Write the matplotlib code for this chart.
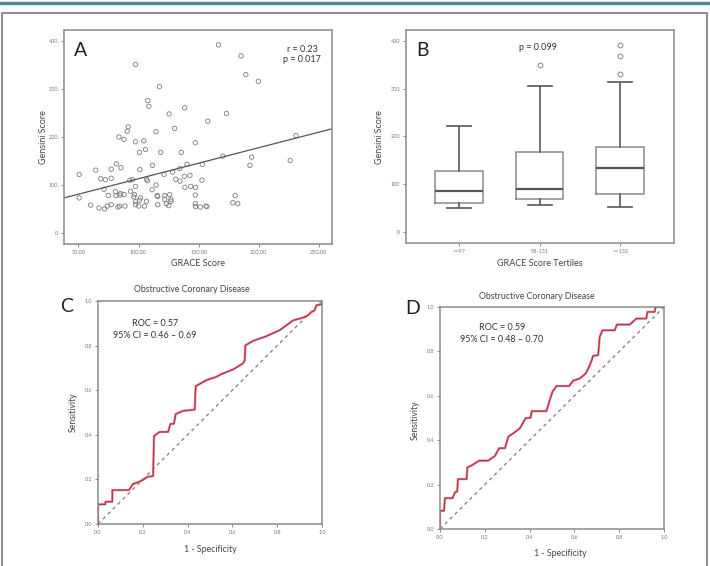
import numpy as np
import matplotlib.pyplot as plt

W, H = 710, 566

# Panel A: GRACE vs Gensini scatter
grace = [166.6, 185.4, 189.3, 199.7, 97.5, 117.4, 107.7, 108.6, 125.4, 138.4,
         173.2, 157.7, 91.4, 90.6, 114.6, 130.1, 83.7, 87.9, 97.5, 104.4,
         147.2, 100.8, 105.8, 118.5, 135.6, 231.0, 170.2, 194.1, 226.2, 192.7,
         50.6, 64.4, 77.3, 81.5, 85.4, 101.1, 111.6, 134.3, 140.3, 153.0,
         128.5, 121.3, 142.8, 138.1, 68.5, 72.4, 77.3, 92.8, 95.0, 106.6,
         107.4, 130.9, 134.5, 152.8, 97.5, 114.6, 138.6, 143.4, 147.5, 50.6,
         71.3, 80.9, 85.1, 93.4, 111.3, 74.9, 81.3, 84.4, 96.7, 101.7,
         115.5, 116.0, 121.8, 125.9, 127.0, 147.2, 180.4, 60.2, 71.8, 74.0,
         77.3, 84.2, 82.9, 88.7, 97.5, 97.5, 100.8, 100.2, 104.9, 106.6,
         116.0, 121.8, 123.2, 125.1, 127.0, 147.2, 147.5, 151.4, 156.1, 156.9,
         178.5, 182.6, 96.1, 87.9, 67.1]
gensini = [392, 369, 330, 316, 351, 305, 276, 264, 248, 261,
           249, 233, 221, 212, 211, 218, 200, 195, 190, 192,
           188, 168, 174, 168, 168, 203, 160, 158, 151, 141,
           122, 131, 133, 144, 136, 132, 141, 134, 143, 143,
           127, 122, 120, 118, 113, 111, 114, 110, 111, 112,
           109, 112, 108, 110, 97, 100, 95, 97, 95, 73,
           91, 86, 82, 87, 90, 78, 78, 79, 80, 73,
           78, 76, 78, 80, 70, 79, 78, 58, 50, 56,
           59, 56, 54, 56, 59, 65, 68, 56, 56, 66,
           59, 70, 61, 57, 66, 61, 55, 54, 56, 55,
           63, 61, 75, 80, 52]
fit_slope = 0.646
fit_intercept = 48.5
r_text = "r = 0.23"
pA_text = "p = 0.017"

# Panel B: Gensini by GRACE tertiles
tertiles = ["<=97", "98-131", ">=132"]
whislo = [50, 56, 53]
q1 = [61, 70, 79]
med = [86, 90, 133]
q3 = [127, 168, 177]
whishi = [221, 305, 315]
fliers = [[], [350], [391, 368, 330]]
pB_text = "p = 0.099"

# Panel C / D: ROC curves
fpr_c = [0, 0, 0.033, 0.033, 0.064, 0.064, 0.138, 0.156, 0.186, 0.204, 0.223,
         0.246, 0.25, 0.275, 0.313, 0.323, 0.339, 0.347, 0.379, 0.432, 0.436,
         0.484, 0.528, 0.551, 0.603, 0.647, 0.655, 0.658, 0.692, 0.751, 0.811,
         0.871, 0.915, 0.938, 0.952, 0.967, 0.975, 0.997, 1.0]
tpr_c = [0, 0.088, 0.088, 0.1, 0.1, 0.152, 0.152, 0.179, 0.19, 0.2, 0.212,
         0.215, 0.394, 0.413, 0.413, 0.448, 0.45, 0.493, 0.507, 0.513, 0.618,
         0.645, 0.66, 0.672, 0.693, 0.72, 0.734, 0.801, 0.821, 0.842, 0.869,
         0.913, 0.925, 0.936, 0.95, 0.958, 0.981, 0.985, 1.0]
fpr_d = [0, 0, 0.018, 0.022, 0.056, 0.067, 0.077, 0.08, 0.119, 0.122, 0.146,
         0.175, 0.215, 0.245, 0.264, 0.29, 0.305, 0.327, 0.357, 0.382, 0.404,
         0.41, 0.475, 0.49, 0.502, 0.52, 0.577, 0.594, 0.624, 0.651, 0.669,
         0.684, 0.706, 0.713, 0.725, 0.78, 0.79, 0.847, 0.877, 0.921, 0.926,
         0.958, 0.963, 1.0]
tpr_d = [0, 0.082, 0.082, 0.139, 0.139, 0.166, 0.169, 0.225, 0.225, 0.277, 0.289,
         0.308, 0.308, 0.329, 0.364, 0.364, 0.416, 0.431, 0.454, 0.499, 0.501,
         0.531, 0.531, 0.581, 0.618, 0.644, 0.644, 0.668, 0.678, 0.701, 0.738,
         0.78, 0.783, 0.865, 0.895, 0.895, 0.921, 0.921, 0.948, 0.948, 0.978,
         0.978, 1.0, 1.0]
roc_c = ["ROC = 0.57", "95% CI = 0.46 \u2013 0.69"]
roc_d = ["ROC = 0.59", "95% CI = 0.48 \u2013 0.70"]

plt.rcParams["font.family"] = ["Lato", "DejaVu Sans"]

fig = plt.figure(figsize=(W / 100, H / 100), dpi=100)


def rect(l, t, r, b):
    return [l / W, 1 - b / H, (r - l) / W, (b - t) / H]


def ftext(x, y, s, **kw):
    fig.text(x / W, 1 - y / H, s, **kw)


# page decoration
fig.add_artist(plt.Line2D([0, 1], [1 - 3 / H, 1 - 3 / H], color="#4d8a98", lw=2.5))
fig.add_artist(plt.Rectangle((2 / W, -0.01), (W - 5) / W, 1 - 12.5 / H + 0.01,
                             fill=False, ec="#7a7a7a", lw=1.2))


def style(ax):
    for s in ax.spines.values():
        s.set_color("#8a8a8a")
        s.set_linewidth(1.1)
    ax.tick_params(labelsize=4, colors="#777777", length=2.5, width=0.6, pad=1.5)


# A
axA = fig.add_axes(rect(64, 30, 332, 244))
axA.scatter(grace, gensini, s=10, facecolors="none", edgecolors="#7c7c7c", linewidths=0.6)
xs = np.array([38, 261])
axA.plot(xs, fit_intercept + fit_slope * xs, color="#555555", lw=0.9)
axA.set_xlim(38, 261)
axA.set_ylim(-23, 423)
axA.set_xticks([50, 100, 150, 200, 250])
axA.set_xticklabels(["50.00", "100.00", "150.00", "200.00", "250.00"])
axA.set_yticks([0, 100, 200, 300, 400])
style(axA)
ftext(198, 264, "GRACE Score", fontsize=6.5, color="#444444", ha="center", va="center")
ftext(43, 137, "Gensini Score", fontsize=6.5, color="#444444", ha="center", va="center", rotation=90)
ftext(81, 50, "A", fontsize=14, ha="center", va="center", color="#222222")
ftext(302, 49, r_text, fontsize=6.5, ha="center", va="center", color="#333333")
ftext(302, 59, pA_text, fontsize=6.5, ha="center", va="center", color="#333333")

# B
axB = fig.add_axes(rect(406, 30, 674, 243))
stats = []
for i in range(3):
    stats.append(dict(med=med[i], q1=q1[i], q3=q3[i], whislo=whislo[i],
                      whishi=whishi[i], fliers=fliers[i]))
axB.bxp(stats, positions=[1, 2, 3], widths=0.59,
        boxprops=dict(color="#8a8a8a", lw=1.1),
        medianprops=dict(color="#555555", lw=1.6),
        whiskerprops=dict(color="#666666", lw=1.3),
        capprops=dict(color="#666666", lw=1.3),
        flierprops=dict(marker="o", mfc="none", mec="#888888", ms=3.5, mew=0.7),
        capwidths=0.3)
axB.set_xlim(0.34, 3.67)
axB.set_ylim(-23, 423)
axB.set_xticks([1, 2, 3])
axB.set_xticklabels(tertiles)
axB.set_yticks([0, 100, 200, 300, 400])
style(axB)
ftext(540, 264, "GRACE Score Tertiles", fontsize=6.5, color="#444444", ha="center", va="center")
ftext(380, 137, "Gensini Score", fontsize=6.5, color="#444444", ha="center", va="center", rotation=90)
ftext(423, 50, "B", fontsize=14, ha="center", va="center", color="#222222")
ftext(538, 48, pB_text, fontsize=6.5, ha="center", va="center", color="#333333")


def roc_panel(box, fpr, tpr, letter, letter_xy, title_xy, txt, txt_xy, ylab_xy, xlab_xy):
    ax = fig.add_axes(rect(*box))
    ax.plot([0, 1], [0, 1], color="#888888", lw=1.0, ls=(0, (2.5, 2.5)))
    ax.plot(fpr, tpr, color="#ec8a9c", lw=1.7)
    ax.plot(fpr, tpr, color="#b23448", lw=0.9)
    ax.set_xlim(0, 1)
    ax.set_ylim(0, 1)
    ticks = [0, 0.2, 0.4, 0.6, 0.8, 1.0]
    ax.set_xticks(ticks)
    ax.set_yticks(ticks)
    ax.set_xticklabels([f"{t:.1f}" for t in ticks])
    ax.set_yticklabels([f"{t:.1f}" for t in ticks])
    style(ax)
    ftext(*title_xy, "Obstructive Coronary Disease", fontsize=6.3, color="#444444", ha="center", va="center")
    ftext(*letter_xy, letter, fontsize=14, ha="center", va="center", color="#222222")
    ftext(txt_xy[0], txt_xy[1], txt[0], fontsize=6.5, ha="center", va="center", color="#333333")
    ftext(txt_xy[0], txt_xy[1] + 11, txt[1], fontsize=6.5, ha="center", va="center", color="#333333")
    ftext(*ylab_xy, "Sensitivity", fontsize=6.3, color="#444444", ha="center", va="center", rotation=90)
    ftext(*xlab_xy, "1 - Specificity", fontsize=6.3, color="#444444", ha="center", va="center")


roc_panel((98, 301, 322, 524), fpr_c, tpr_c, "C", (67, 307), (192, 290),
          roc_c, (155, 324), (73, 412), (210, 549))
roc_panel((440, 307, 664, 529), fpr_d, tpr_d, "D", (413, 309), (537, 296),
          roc_d, (502, 328), (415, 420), (560, 554))

fig.savefig("out.png", dpi=100)
